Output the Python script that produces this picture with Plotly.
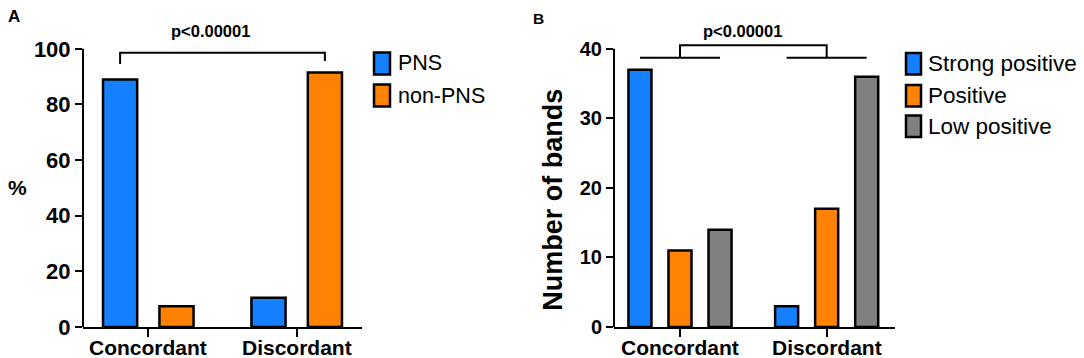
import plotly.graph_objects as go

# ---------------- data ----------------
categories = ["Concordant", "Discordant"]

# Panel A (%)
a_series = ["PNS", "non-PNS"]
a_pns = [89, 10.5]
a_nonpns = [7.5, 91.5]
a_ticks = [0, 20, 40, 60, 80, 100]

# Panel B (Number of bands)
b_series = ["Strong positive", "Positive", "Low positive"]
b_strong = [37, 3]
b_positive = [11, 17]
b_low = [14, 36]
b_ticks = [0, 10, 20, 30, 40]

p_text = "p<0.00001"

# ---------------- styles ----------------
BLUE = "#1580FF"
ORANGE = "#FF8205"
GRAY = "#808080"
FONT = "Liberation Sans, Arial, sans-serif"
W, H = 1084, 358
M_T, M_B = 21, 31
PLOT_H = H - M_T - M_B

fig = go.Figure()

def px_x(p):
    return p / W

def px_y(p):
    return (H - M_B - p) / PLOT_H

# Panel A bars
a_vals = [a_pns, a_nonpns]
a_colors = [BLUE, ORANGE]
a_width = 0.23
a_centers = [-0.19, 0.19]
for name, vals, col, c in zip(a_series, a_vals, a_colors, a_centers):
    fig.add_trace(go.Bar(
        x=categories, y=vals, name=name, xaxis="x", yaxis="y",
        width=a_width, offset=c - a_width / 2,
        marker=dict(color=col, line=dict(color="black", width=2.5)),
        showlegend=False))

# Panel B bars
b_vals = [b_strong, b_positive, b_low]
b_colors = [BLUE, ORANGE, GRAY]
b_width = 0.157
b_centers = [-0.273, 0.0, 0.273]
for name, vals, col, c in zip(b_series, b_vals, b_colors, b_centers):
    fig.add_trace(go.Bar(
        x=categories, y=vals, name=name, xaxis="x2", yaxis="y2",
        width=b_width, offset=c - b_width / 2,
        marker=dict(color=col, line=dict(color="black", width=2.5)),
        showlegend=False))

axis_common_x = dict(
    showline=True, linecolor="black", linewidth=2, ticks="outside",
    ticklen=8, tickwidth=2, tickcolor="black", showgrid=False, zeroline=False,
    showticklabels=False,
    type="category", fixedrange=True, automargin=False)

def y_axis(size, rng, tickvals, anchor):
    return dict(showline=False, ticks="outside", ticklen=7, tickwidth=2, tickcolor="black",
                showgrid=False, zeroline=False, range=rng, tickvals=tickvals, anchor=anchor,
                automargin=False, fixedrange=True,
                tickfont=dict(family=FONT, size=size, color="black", weight="bold"))

fig.update_layout(
    width=W, height=H,
    margin=dict(l=0, r=0, t=M_T, b=M_B),
    paper_bgcolor="white", plot_bgcolor="white",
    barmode="overlay",
    xaxis=dict(**axis_common_x, domain=[px_x(83), px_x(362)], range=[-0.44, 1.44], anchor="y"),
    yaxis=y_axis(22, [0, 110], a_ticks, "x"),
    xaxis2=dict(**axis_common_x, domain=[px_x(614), px_x(895)], range=[-0.45, 1.466], anchor="y2"),
    yaxis2=y_axis(20, [0, 44], b_ticks, "x2"),
)

shapes = []
line = dict(color="black", width=2)
# y axis lines (stop at top tick)
shapes.append(dict(type="line", xref="x domain", yref="y", x0=0, x1=0,
                   y0=0, y1=a_ticks[-1], line=line))
shapes.append(dict(type="line", xref="x2 domain", yref="y2", x0=0, x1=0,
                   y0=0, y1=b_ticks[-1], line=line))

# Panel A significance bracket
a_top, a_lb, a_rb = 98.6, 94.5, 95.6
xl, xr = -0.19, 1.19
shapes.append(dict(type="path", xref="x", yref="y",
                   path=f"M {xl},{a_lb} L {xl},{a_top} L {xr},{a_top} L {xr},{a_rb}",
                   line=line))

# Panel B significance bracket
b_top, b_low_y = 40.5, 38.7
for k in range(2):
    shapes.append(dict(type="line", xref="x2", yref="y2",
                       x0=k - 0.273, x1=k + 0.273, y0=b_low_y, y1=b_low_y, line=line))
shapes.append(dict(type="path", xref="x2", yref="y2",
                   path=f"M 0,{b_low_y} L 0,{b_top} L 1,{b_top} L 1,{b_low_y}",
                   line=line))

annotations = []
# category labels (placed closer to the axis than Plotly's default tick labels)
for xa in ["x", "x2"]:
    for cat in categories:
        annotations.append(dict(text=cat, xref=xa, yref="paper", x=cat, y=px_y(347.5),
                                showarrow=False, xanchor="center", yanchor="middle",
                                font=dict(family=FONT, size=21, color="black", weight="bold")))

# p-values
annotations.append(dict(text=p_text, xref="x", yref="y", x=0.42, y=106.4,
                        showarrow=False, xanchor="center", yanchor="middle",
                        font=dict(family=FONT, size=16.5, color="black", weight="bold")))
annotations.append(dict(text=p_text, xref="x2", yref="y2", x=0.427, y=42.5,
                        showarrow=False, xanchor="center", yanchor="middle",
                        font=dict(family=FONT, size=16.5, color="black", weight="bold")))

# Axis titles
annotations.append(dict(text="%", xref="paper", yref="y", x=px_x(17.5), y=50,
                        showarrow=False, xanchor="center", yanchor="middle",
                        font=dict(family=FONT, size=21, color="black", weight="bold")))
annotations.append(dict(text="Number of bands", xref="paper", yref="y2", x=px_x(553), y=18.3,
                        showarrow=False, xanchor="center", yanchor="middle", textangle=-90,
                        font=dict(family=FONT, size=27, color="black", weight="bold")))

# Panel labels
annotations.append(dict(text="A", xref="paper", yref="paper", x=px_x(6), y=px_y(16.5),
                        showarrow=False, xanchor="left", yanchor="middle",
                        font=dict(family=FONT, size=17, color="black", weight="bold")))
annotations.append(dict(text="B", xref="paper", yref="paper", x=px_x(530.5), y=px_y(18),
                        showarrow=False, xanchor="left", yanchor="middle",
                        font=dict(family=FONT, size=15.5, color="black", weight="bold")))

# Custom legends
def add_legend(names, colors, box_x0, box_x1, row_tops, box_h, text_x, fsize):
    for name, col, top in zip(names, colors, row_tops):
        shapes.append(dict(type="rect", xref="paper", yref="paper",
                           x0=px_x(box_x0), x1=px_x(box_x1),
                           y0=px_y(top + box_h), y1=px_y(top),
                           fillcolor=col, line=dict(color="black", width=2.5)))
        annotations.append(dict(text=name, xref="paper", yref="paper",
                                x=px_x(text_x), y=px_y(top + box_h / 2),
                                showarrow=False, xanchor="left", yanchor="middle",
                                font=dict(family=FONT, size=fsize, color="black")))

add_legend(a_series, a_colors, 374, 390, [52.5, 84.5], 22, 396, 21.5)
add_legend(b_series, b_colors, 906, 921, [53, 85, 115.5], 21.5, 926, 22.5)

fig.update_layout(shapes=shapes, annotations=annotations)

fig.write_html("out.html", config={"displayModeBar": False},
               post_script="document.body.style.margin='0';document.body.style.overflow='hidden';")
